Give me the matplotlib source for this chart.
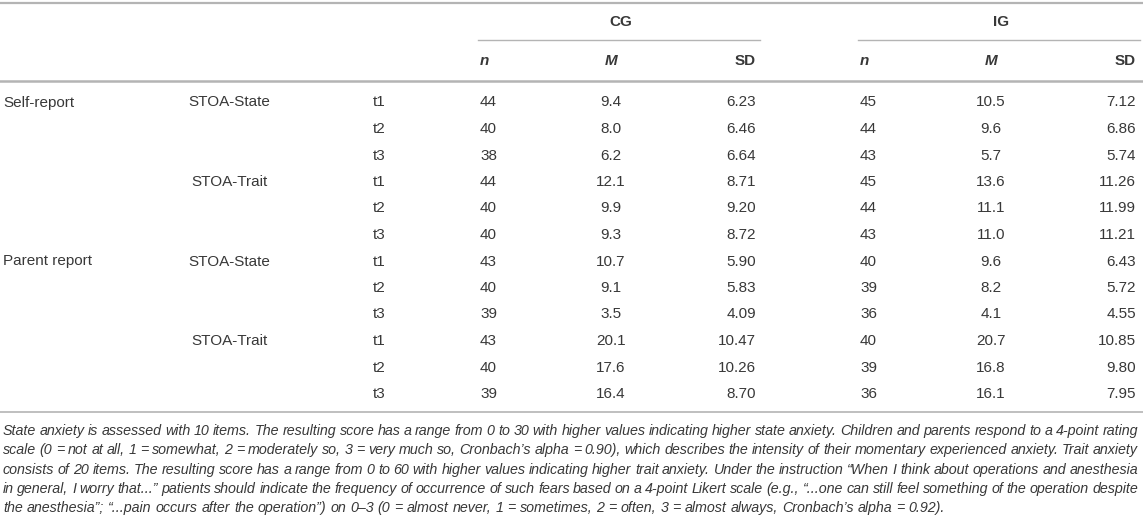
import matplotlib
matplotlib.use("Agg")
import matplotlib.pyplot as plt

# Datos de la tabla
reporters = ["Self-report", "", "", "", "", "", "Parent report", "", "", "", "", ""]
scales = ["STOA-State", "", "", "STOA-Trait", "", "",
          "STOA-State", "", "", "STOA-Trait", "", ""]
times = ["t1", "t2", "t3"] * 4

cg_n = [44, 40, 38, 44, 40, 40, 43, 40, 39, 43, 40, 39]
cg_m = ["9.4", "8.0", "6.2", "12.1", "9.9", "9.3", "10.7", "9.1", "3.5", "20.1", "17.6", "16.4"]
cg_sd = ["6.23", "6.46", "6.64", "8.71", "9.20", "8.72", "5.90", "5.83", "4.09", "10.47", "10.26", "8.70"]

ig_n = [45, 44, 43, 45, 44, 43, 40, 39, 36, 40, 39, 36]
ig_m = ["10.5", "9.6", "5.7", "13.6", "11.1", "11.0", "9.6", "8.2", "4.1", "20.7", "16.8", "16.1"]
ig_sd = ["7.12", "6.86", "5.74", "11.26", "11.99", "11.21", "6.43", "5.72", "4.55", "10.85", "9.80", "7.95"]

groups = ["CG", "IG"]
col_heads = ["n", "M", "SD"]

footnote = [
    "State anxiety is assessed with 10 items. The resulting score has a range from 0 to 30 with higher values indicating higher state anxiety. Children and parents respond to a 4-point rating",
    "scale (0 = not at all, 1 = somewhat, 2 = moderately so, 3 = very much so, Cronbach\u2019s alpha = 0.90), which describes the intensity of their momentary experienced anxiety. Trait anxiety",
    "consists of 20 items. The resulting score has a range from 0 to 60 with higher values indicating higher trait anxiety. Under the instruction \u201cWhen I think about operations and anesthesia",
    "in general, I worry that...\u201d patients should indicate the frequency of occurrence of such fears based on a 4-point Likert scale (e.g., \u201c...one can still feel something of the operation despite",
    "the anesthesia\u201d; \u201c...pain occurs after the operation\u201d) on 0\u20133 (0 = almost never, 1 = sometimes, 2 = often, 3 = almost always, Cronbach\u2019s alpha = 0.92).",
]

W, H = 1143, 523
plt.rcParams["font.family"] = ["Liberation Sans", "DejaVu Sans"]
txt = "#383838"
rule = "#b4b4b4"
fs = 11

fig = plt.figure(figsize=(W / 100, H / 100), dpi=100)
ax = fig.add_axes([0, 0, 1, 1])
ax.set_xlim(0, W)
ax.set_ylim(H, 0)
ax.axis("off")

# columnas (px)
x_rep, x_scale, x_time = 3, 229, 373
grp_x = [(478, 760), (858, 1140)]
row0, dy = 102.5, 26.5

# líneas horizontales
ax.plot([0, W], [2.5, 2.5], color=rule, lw=1.6)
ax.plot([0, W], [81, 81], color=rule, lw=1.8)
ax.plot([0, W], [412, 412], color=rule, lw=1.2)
for (x0, x1), g in zip(grp_x, groups):
    ax.plot([x0, x1], [40, 40], color=rule, lw=1.0)
    ax.text((x0 + x1) / 2 + 2, 22, g, ha="center", va="center", fontsize=fs,
            fontweight="bold", color=txt)
    xs = [x0 + 2, (x0 + x1) / 2 - 8, x1 - 4]
    has = ["left", "center", "right"]
    for xh, ha, h in zip(xs, has, col_heads):
        ax.text(xh, 61, h, ha=ha, va="center", fontsize=fs, fontweight="bold",
                fontstyle="normal" if h == "SD" else "italic", color=txt)

cols = [(cg_n, cg_m, cg_sd), (ig_n, ig_m, ig_sd)]
for i in range(len(times)):
    y = row0 + i * dy
    ax.text(x_rep, y, reporters[i], ha="left", va="center", fontsize=fs, color=txt)
    ax.text(x_scale, y, scales[i], ha="center", va="center", fontsize=fs, color=txt)
    ax.text(x_time, y, times[i], ha="left", va="center", fontsize=fs, color=txt)
    for (x0, x1), (ns, ms, sds) in zip(grp_x, cols):
        ax.text(x0 + 2, y, str(ns[i]), ha="left", va="center", fontsize=fs, color=txt)
        ax.text((x0 + x1) / 2 - 8, y, ms[i], ha="center", va="center", fontsize=fs, color=txt)
        ax.text(x1 - 4, y, sds[i], ha="right", va="center", fontsize=fs, color=txt)

# nota al pie, justificada
fig.canvas.draw()
rend = fig.canvas.get_renderer()
fn_fs = 10.3
left, right = 3, 1138
for k, line in enumerate(footnote):
    y = 431 + k * 19.3
    words = line.split(" ")
    arts = [ax.text(0, y, w, ha="left", va="center", fontsize=fn_fs,
                    fontstyle="italic", color=txt) for w in words]
    widths = [a.get_window_extent(rend).width for a in arts]
    sp = ax.text(0, y, "a a", fontsize=fn_fs, fontstyle="italic")
    sp2 = ax.text(0, y, "aa", fontsize=fn_fs, fontstyle="italic")
    gap = sp.get_window_extent(rend).width - sp2.get_window_extent(rend).width
    sp.remove()
    sp2.remove()
    if k < len(footnote) - 1:
        gap = (right - left - sum(widths)) / (len(words) - 1)
    x = left
    for a, w in zip(arts, widths):
        a.set_x(x)
        x += w + gap

fig.savefig("out.png", dpi=100)
